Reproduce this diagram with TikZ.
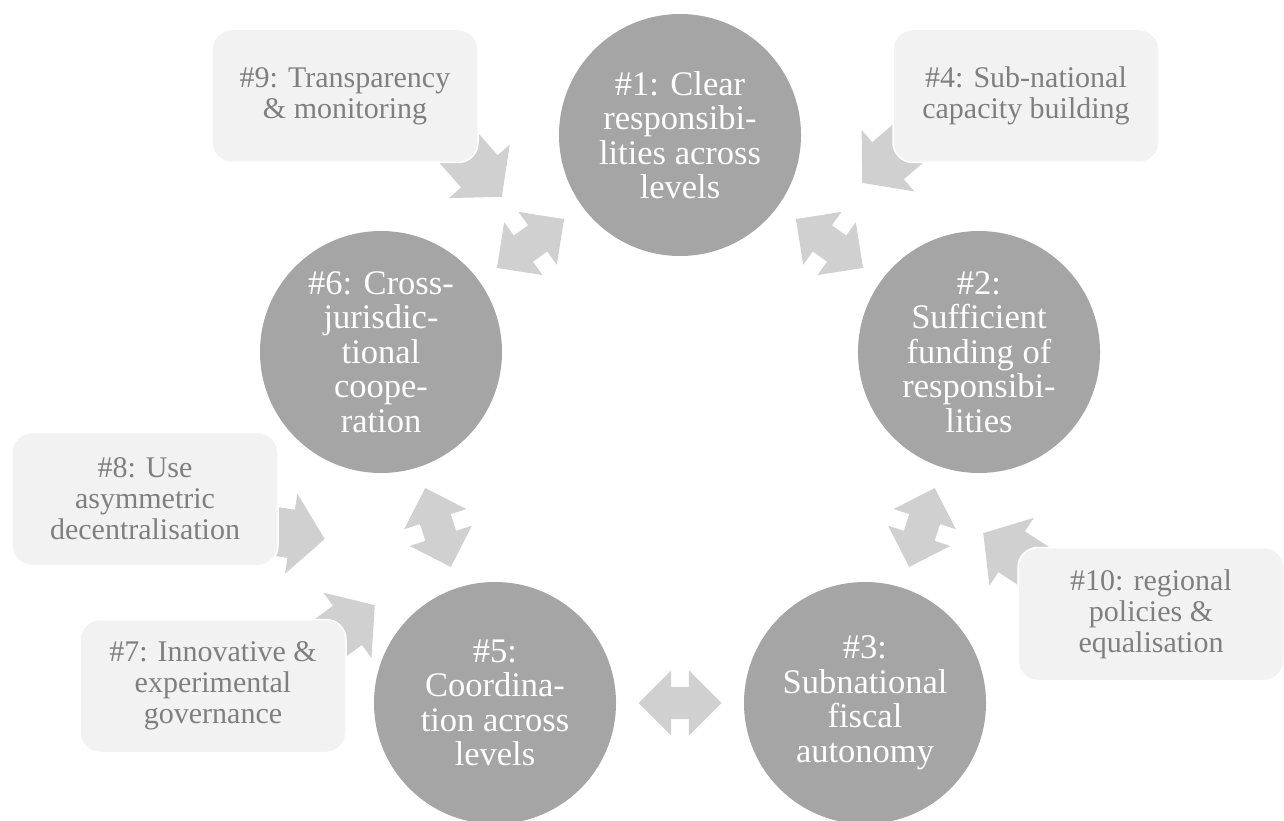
\documentclass[tikz,border=0pt]{standalone}
\usepackage{fontspec}
\setmainfont{Liberation Serif}
\usetikzlibrary{shapes.arrows,calc}

\definecolor{circgray}{HTML}{A5A5A5}
\definecolor{arrowgray}{HTML}{D0D0D0}
\definecolor{boxgray}{HTML}{F2F2F2}
\definecolor{boxtext}{HTML}{7F7F7F}

\begin{document}
\begin{tikzpicture}[x=1pt,y=-1pt,
    goal/.style={circle,fill=circgray,minimum size=242pt,inner sep=0pt,
      text=white,align=center,font=\fontsize{34.5}{34.5}\selectfont},
    goalbox/.style={rectangle,rounded corners=20pt,fill=boxgray,draw=white,
      line width=1.5pt,minimum width=266pt,minimum height=133pt,inner sep=0pt,
      text=boxtext,align=center,font=\fontsize{30}{31}\selectfont},
    inarrow/.style={single arrow,fill=arrowgray,minimum width=81pt,
      minimum height=75pt,single arrow head extend=16pt,
      single arrow tip angle=100,inner xsep=0pt,inner ysep=24pt,anchor=tip},
    linkarrow/.style={double arrow,fill=arrowgray,minimum width=65pt,
      minimum height=83pt,double arrow head extend=16.5pt,
      double arrow tip angle=90,inner xsep=0pt,inner ysep=16pt}]

    \useasboundingbox (0,0) rectangle (1284,821);

    % The five circles
    \node[goal] (c1) at (680,135) {\#1: Clear\\responsibi-\\lities across\\levels};
    \node[goal] (c2) at (979,352) {\#2:\\Sufficient\\funding of\\responsibi-\\lities};
    \node[goal] (c3) at (865,703) {\#3:\\Subnational\\fiscal\\autonomy};
    \node[goal] (c5) at (495,703) {\#5:\\Coordina-\\tion across\\levels};
    \node[goal] (c6) at (381,352) {\#6: Cross-\\jurisdic-\\tional\\coope-\\ration};

    %% Links between circles
    \node[linkarrow,rotate=36] (d16) at ($(c1)!0.5!(c6)$) {};
    \node[linkarrow,rotate=-36] (d12) at ($(c1)!0.5!(c2)$) {};
    \node[linkarrow,rotate=72] (d23) at ($(c2)!0.5!(c3)$) {};
    \node[linkarrow,rotate=0] (d35) at ($(c3)!0.5!(c5)$) {};
    \node[linkarrow,rotate=-72] (d56) at ($(c5)!0.5!(c6)$) {};

    % Arrows from the boxes
    \node[inarrow,rotate=-48.6] (a9) at (502,197) {};
    \node[inarrow,rotate=220.6] (a4) at (862,183) {};
    \node[inarrow,rotate=-8.8] (a8) at (325,539) {};
    \node[inarrow,rotate=36.4] (a7) at (375,605) {};
    \node[inarrow,rotate=146.8] (a10) at (983,533) {};

    %% Boxes
    \node[goalbox] (b9) at (345,96) {\#9: Transparency\\\& monitoring};
    \node[goalbox] (b4) at (1026,96) {\#4: Sub-national\\capacity building};
    \node[goalbox] (b8) at (145,499) {\#8: Use\\asymmetric\\decentralisation};
    \node[goalbox] (b7) at (213,686) {\#7: Innovative \&\\experimental\\governance};
    \node[goalbox] (b10) at (1151,614) {\#10: regional\\policies \&\\equalisation};

\end{tikzpicture}
\end{document}
